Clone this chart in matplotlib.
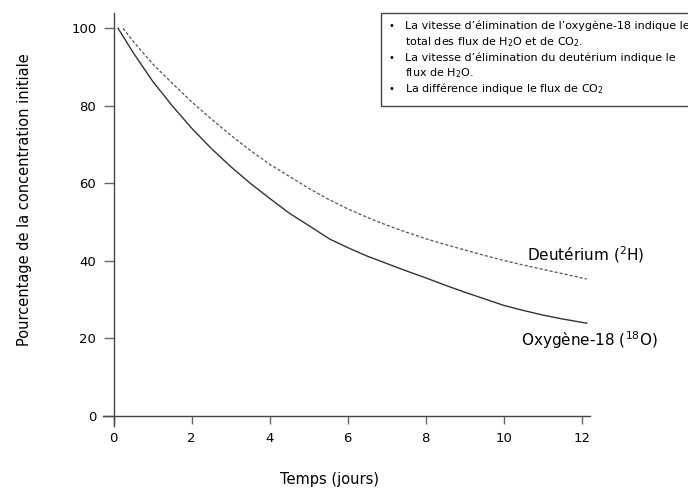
import matplotlib
matplotlib.use("Agg")
import matplotlib.pyplot as plt
from matplotlib.patches import Rectangle

# ── Data ──────────────────────────────────────────────────────────────────────
o18_days = [0.11, 0.5, 1, 1.5, 2, 2.5, 3, 3.5, 4, 4.5, 5, 5.54, 6, 6.5, 7, 7.5,
            8, 8.5, 9, 9.5, 10, 10.5, 11, 11.5, 12.13]
o18_pct = [100, 93.7, 86.3, 80.0, 74.2, 69.0, 64.3, 60.0, 56.1, 52.3, 49.1, 45.6,
           43.4, 41.2, 39.3, 37.4, 35.6, 33.7, 31.9, 30.2, 28.5, 27.2, 26.0, 25.0,
           23.9]

h2_days = [0.24, 0.5, 1, 1.5, 2, 2.5, 3, 3.5, 4, 4.5, 5, 5.5, 6, 6.5, 7, 7.5,
           8, 8.5, 9, 9.5, 10, 10.5, 11, 11.5, 12.13]
h2_pct = [100, 96.6, 90.8, 85.8, 81.0, 76.6, 72.4, 68.5, 64.9, 61.8, 58.7, 55.9,
          53.4, 51.2, 49.2, 47.4, 45.7, 44.2, 42.8, 41.4, 40.1, 38.9, 37.8, 36.7,
          35.3]

x_ticks = [0, 2, 4, 6, 8, 10, 12]
y_ticks = [0, 20, 40, 60, 80, 100]

notes = [
    ("\u2022", "La vitesse d\u2019élimination de l\u2019oxygène-18 indique le"),
    ("", "total des flux de H$_2$O et de CO$_2$."),
    ("\u2022", "La vitesse d\u2019élimination du deutérium indique le"),
    ("", "flux de H$_2$O."),
    ("\u2022", "La différence indique le flux de CO$_2$"),
]

plt.rcParams.update({
    "font.family": "DejaVu Sans",
    "mathtext.fontset": "dejavusans",
    "mathtext.default": "regular",
})

fig = plt.figure(figsize=(6.88, 4.90), dpi=100)
ax = fig.add_axes([0.150, 0.1316, 0.7074, 0.8424])

ax.plot(o18_days, o18_pct, color="#333333", linewidth=1.0)
ax.plot(h2_days, h2_pct, color="#555555", linewidth=0.9, linestyle=(0, (2.5, 1.6)))

ax.set_xlim(-0.27, 12.21)
ax.set_ylim(-2.5, 104)

for side in ("top", "right"):
    ax.spines[side].set_visible(False)
ax.spines["left"].set_position(("data", 0))
ax.spines["bottom"].set_position(("data", 0))
for side in ("left", "bottom"):
    ax.spines[side].set_color("#444444")
    ax.spines[side].set_linewidth(1.0)

ax.set_xticks(x_ticks)
ax.set_yticks(y_ticks)
ax.tick_params(axis="y", direction="out", length=7.5, width=1.0, color="#666666",
               labelsize=9.5, pad=5)
ax.tick_params(axis="x", direction="out", length=6, width=1.0, color="#666666",
               labelsize=9.5, pad=6)

fig.text(0.036, 0.592, "Pourcentage de la concentration initiale", rotation=90,
         ha="center", va="center", fontsize=10.5)
fig.text(0.479, 0.021, "Temps (jours)", ha="center", va="center", fontsize=10.5)

ax.text(10.6, 41.5, "Deutérium ($^2$H)", fontsize=11, ha="left", va="center")
ax.text(10.44, 19.6, "Oxygène-18 ($^{18}$O)", fontsize=11, ha="left", va="center")

# ── Note box (clipped at the right edge of the figure) ──────────────────────
box = Rectangle((381 / 688, 1 - 106 / 490), 0.6, (106 - 13) / 490,
                transform=fig.transFigure, facecolor="white", edgecolor="#444444",
                linewidth=1.0)
fig.patches.append(box)
line_y = [26, 42, 58, 73, 89]
for (bullet, txt), yp in zip(notes, line_y):
    if bullet:
        fig.text(391 / 688, 1 - yp / 490, bullet, fontsize=7, ha="center", va="center")
    fig.text(405 / 688, 1 - yp / 490, txt, fontsize=8.0, ha="left", va="center")

fig.savefig("out.png", dpi=100)
